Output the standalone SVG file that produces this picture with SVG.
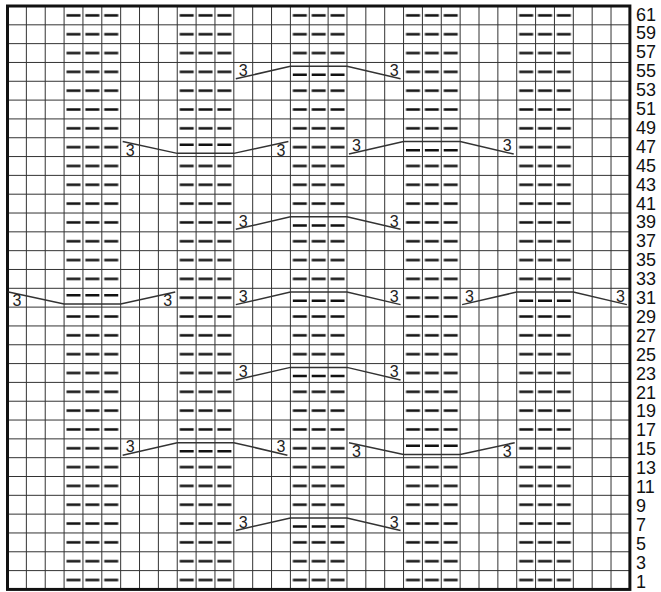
<svg xmlns="http://www.w3.org/2000/svg" width="661" height="592" viewBox="0 0 661 592">
<style>
.grid{fill:none;stroke:#333;stroke-width:1}
.border{fill:none;stroke:#111;stroke-width:3}
.d{fill:none;stroke:#111;stroke-width:2.5}
.cab{fill:none;stroke:#333;stroke-width:1.5}
.three{font-family:"Liberation Sans",Arial,sans-serif;font-size:16px;fill:#222;text-anchor:middle}
.lbl{font-family:"Liberation Sans",Arial,sans-serif;font-size:18px;fill:#111}
.p{fill:url(#purl)}
</style>
<defs>
<pattern id="purl" patternUnits="userSpaceOnUse" x="7.5" y="6" width="18.86" height="18.82">
<rect x="2.43" y="8.16" width="14" height="2.5" fill="#111"/>
</pattern>
</defs>
<rect width="661" height="592" fill="#fff"/>
<g id="purl-columns">
<rect class="p" x="64.08" y="6" width="56.58" height="282.3"/>
<rect class="p" x="64.08" y="307.12" width="56.58" height="282.3"/>
<rect class="p" x="177.24" y="6" width="56.58" height="131.74"/>
<rect class="p" x="177.24" y="156.56" width="56.58" height="282.3"/>
<rect class="p" x="177.24" y="457.68" width="56.58" height="131.74"/>
<rect class="p" x="290.4" y="6" width="56.58" height="56.46"/>
<rect class="p" x="290.4" y="81.28" width="56.58" height="131.74"/>
<rect class="p" x="290.4" y="231.84" width="56.58" height="56.46"/>
<rect class="p" x="290.4" y="307.12" width="56.58" height="56.46"/>
<rect class="p" x="290.4" y="382.4" width="56.58" height="131.74"/>
<rect class="p" x="290.4" y="532.96" width="56.58" height="56.46"/>
<rect class="p" x="403.56" y="6" width="56.58" height="131.74"/>
<rect class="p" x="403.56" y="156.56" width="56.58" height="282.3"/>
<rect class="p" x="403.56" y="457.68" width="56.58" height="131.74"/>
<rect class="p" x="516.72" y="6" width="56.58" height="282.3"/>
<rect class="p" x="516.72" y="307.12" width="56.58" height="282.3"/>
</g>
<g id="cable-dashes" class="d">
<path d="M292.83 74.87h14m4.86 0h14m4.86 0h14"/>
<path d="M179.67 144.65h14m4.86 0h14m4.86 0h14"/>
<path d="M405.99 150.15h14m4.86 0h14m4.86 0h14"/>
<path d="M292.83 225.43h14m4.86 0h14m4.86 0h14"/>
<path d="M66.51 295.21h14m4.86 0h14m4.86 0h14"/>
<path d="M292.83 300.71h14m4.86 0h14m4.86 0h14"/>
<path d="M519.15 300.71h14m4.86 0h14m4.86 0h14"/>
<path d="M292.83 375.99h14m4.86 0h14m4.86 0h14"/>
<path d="M179.67 451.27h14m4.86 0h14m4.86 0h14"/>
<path d="M405.99 445.77h14m4.86 0h14m4.86 0h14"/>
<path d="M292.83 526.55h14m4.86 0h14m4.86 0h14"/>
</g>
<g id="grid">
<path class="grid" d="M26.36 6V589.42M45.22 6V589.42M64.08 6V589.42M82.94 6V589.42M101.8 6V589.42M120.66 6V589.42M139.52 6V589.42M158.38 6V589.42M177.24 6V589.42M196.1 6V589.42M214.96 6V589.42M233.82 6V589.42M252.68 6V589.42M271.54 6V589.42M290.4 6V589.42M309.26 6V589.42M328.12 6V589.42M346.98 6V589.42M365.84 6V589.42M384.7 6V589.42M403.56 6V589.42M422.42 6V589.42M441.28 6V589.42M460.14 6V589.42M479 6V589.42M497.86 6V589.42M516.72 6V589.42M535.58 6V589.42M554.44 6V589.42M573.3 6V589.42M592.16 6V589.42M611.02 6V589.42"/>
<path class="grid" d="M7.5 24.82H629.88M7.5 43.64H629.88M7.5 62.46H629.88M7.5 81.28H629.88M7.5 100.1H629.88M7.5 118.92H629.88M7.5 137.74H629.88M7.5 156.56H629.88M7.5 175.38H629.88M7.5 194.2H629.88M7.5 213.02H629.88M7.5 231.84H629.88M7.5 250.66H629.88M7.5 269.48H629.88M7.5 288.3H629.88M7.5 307.12H629.88M7.5 325.94H629.88M7.5 344.76H629.88M7.5 363.58H629.88M7.5 382.4H629.88M7.5 401.22H629.88M7.5 420.04H629.88M7.5 438.86H629.88M7.5 457.68H629.88M7.5 476.5H629.88M7.5 495.32H629.88M7.5 514.14H629.88M7.5 532.96H629.88M7.5 551.78H629.88M7.5 570.6H629.88"/>
<rect class="border" x="7.5" y="6" width="622.38" height="583.42"/>
</g>
<g id="connectors">
<path class="cab" d="M235.82 78.78L290.4 66.26L346.98 66.26L400.56 78.78"/>
<path class="cab" d="M122.66 141.54L177.24 153.36L233.82 153.36L288.4 141.54"/>
<path class="cab" d="M348.98 154.06L403.56 141.54L460.14 141.54L513.72 154.06"/>
<path class="cab" d="M235.82 229.34L290.4 216.82L346.98 216.82L400.56 229.34"/>
<path class="cab" d="M8.5 292.1L64.08 303.92L120.66 303.92L175.24 292.1"/>
<path class="cab" d="M235.82 304.62L290.4 292.1L346.98 292.1L400.56 304.62"/>
<path class="cab" d="M462.14 304.62L516.72 292.1L573.3 292.1L626.88 304.62"/>
<path class="cab" d="M235.82 379.9L290.4 367.38L346.98 367.38L400.56 379.9"/>
<path class="cab" d="M122.66 455.18L177.24 442.66L233.82 442.66L287.4 455.18"/>
<path class="cab" d="M348.98 442.66L403.56 454.48L460.14 454.48L514.72 442.66"/>
<path class="cab" d="M235.82 530.46L290.4 517.94L346.98 517.94L400.56 530.46"/>
</g>
<g id="cable-labels" class="three">
<text x="243.25" y="75.96">3</text><text x="394.13" y="75.96">3</text>
<text x="130.09" y="155.56">3</text><text x="280.97" y="155.56">3</text>
<text x="356.41" y="151.24">3</text><text x="507.29" y="151.24">3</text>
<text x="243.25" y="226.52">3</text><text x="394.13" y="226.52">3</text>
<text x="16.93" y="306.12">3</text><text x="167.81" y="306.12">3</text>
<text x="243.25" y="301.8">3</text><text x="394.13" y="301.8">3</text>
<text x="469.57" y="301.8">3</text><text x="620.45" y="301.8">3</text>
<text x="243.25" y="377.08">3</text><text x="394.13" y="377.08">3</text>
<text x="130.09" y="452.36">3</text><text x="280.97" y="452.36">3</text>
<text x="356.41" y="456.68">3</text><text x="507.29" y="456.68">3</text>
<text x="243.25" y="527.64">3</text><text x="394.13" y="527.64">3</text>
</g>
<g id="row-numbers" class="lbl">
<text x="636" y="20.5">61</text>
<text x="636" y="39.4">59</text>
<text x="636" y="58.3">57</text>
<text x="636" y="77.2">55</text>
<text x="636" y="96.1">53</text>
<text x="636" y="115">51</text>
<text x="636" y="133.9">49</text>
<text x="636" y="152.8">47</text>
<text x="636" y="171.7">45</text>
<text x="636" y="190.6">43</text>
<text x="636" y="209.5">41</text>
<text x="636" y="228.4">39</text>
<text x="636" y="247.3">37</text>
<text x="636" y="266.2">35</text>
<text x="636" y="285.1">33</text>
<text x="636" y="304">31</text>
<text x="636" y="322.9">29</text>
<text x="636" y="341.8">27</text>
<text x="636" y="360.7">25</text>
<text x="636" y="379.6">23</text>
<text x="636" y="398.5">21</text>
<text x="636" y="417.4">19</text>
<text x="636" y="436.3">17</text>
<text x="636" y="455.2">15</text>
<text x="636" y="474.1">13</text>
<text x="636" y="493">11</text>
<text x="636" y="511.9">9</text>
<text x="636" y="530.8">7</text>
<text x="636" y="549.7">5</text>
<text x="636" y="568.6">3</text>
<text x="636" y="587.5">1</text>
</g>
</svg>
